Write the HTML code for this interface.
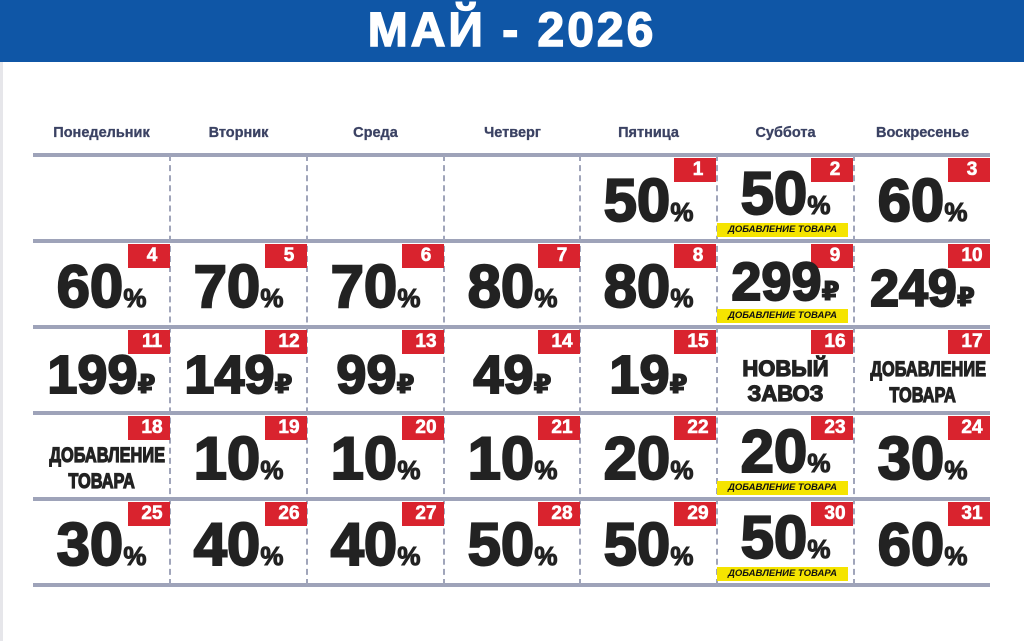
<!DOCTYPE html>
<html><head><meta charset="utf-8"><style>
*{margin:0;padding:0;box-sizing:border-box}
body{width:1024px;height:641px;background:#fff;position:relative;overflow:hidden;font-family:"Liberation Sans","DejaVu Sans",sans-serif}
.hdr{position:absolute;left:0;top:0;width:1024px;height:62px;background:#0f56a6;color:#fff;font-weight:bold;font-size:48px;text-align:center;line-height:62px;-webkit-text-stroke:1.5px #fff;letter-spacing:3px}
.dn{position:absolute;top:125px;width:137px;text-align:center;font-size:14.5px;font-weight:bold;color:#3b4263;-webkit-text-stroke:0.3px #3b4263}
.h{position:absolute;left:33px;width:957px;height:4px;background:#9ea3b9}
.v{position:absolute;top:155px;height:430px;width:0;border-left:2px dashed #a0a5ba}
.b{position:absolute;width:42px;height:24px;background:#d9232e;color:#fff;font-weight:bold;font-size:19px;text-align:center;padding-left:6px;line-height:24px;-webkit-text-stroke:0.6px #fff}
.n{position:absolute;width:137px;text-align:center;font-weight:bold;font-size:60px;line-height:60px;color:#222;-webkit-text-stroke:2px #222;letter-spacing:0;white-space:nowrap}
.n s{text-decoration:none;font-size:26px;letter-spacing:0;-webkit-text-stroke:1px #222}
.y{position:absolute;width:131px;height:14px;background:#f5e400;font-size:9.5px;font-weight:bold;font-style:italic;text-align:center;line-height:14px;color:#111}
.t{position:absolute;width:137px;text-align:center;font-weight:bold;font-size:22px;line-height:25px;color:#222;-webkit-text-stroke:1.2px #222}
.t.c span{display:inline-block;transform:scaleX(0.78);font-size:21px}
</style></head><body>
<div class="hdr">МАЙ - 2026</div>
<div class="dn" style="left:33px">Понедельник</div>
<div class="dn" style="left:170px">Вторник</div>
<div class="dn" style="left:307px">Среда</div>
<div class="dn" style="left:444px">Четверг</div>
<div class="dn" style="left:580px">Пятница</div>
<div class="dn" style="left:717px">Суббота</div>
<div class="dn" style="left:854px">Воскресенье</div>

<div class="h" style="top:153px"></div>
<div class="h" style="top:239px"></div>
<div class="h" style="top:325px"></div>
<div class="h" style="top:411px"></div>
<div class="h" style="top:497px"></div>
<div class="h" style="top:583px"></div>
<div class="v" style="left:169px"></div>
<div class="v" style="left:306px"></div>
<div class="v" style="left:443px"></div>
<div class="v" style="left:579px"></div>
<div class="v" style="left:716px"></div>
<div class="v" style="left:853px"></div>
<div style="position:absolute;left:0;top:62px;width:3px;height:579px;background:#e6e6ea"></div>

<!-- row 0 T=155 -->
<div class="b" style="left:674px;top:158px">1</div><div class="n" style="left:580px;top:171px">50<s>%</s></div>
<div class="b" style="left:811px;top:158px">2</div><div class="n" style="left:717px;top:164px">50<s>%</s></div><div class="y" style="left:717px;top:223px">ДОБАВЛЕНИЕ ТОВАРА</div>
<div class="b" style="left:948px;top:158px">3</div><div class="n" style="left:854px;top:171px">60<s>%</s></div>

<!-- row 1 T=241 -->
<div class="b" style="left:128px;top:244px">4</div><div class="n" style="left:33px;top:257px">60<s>%</s></div>
<div class="b" style="left:265px;top:244px">5</div><div class="n" style="left:170px;top:257px">70<s>%</s></div>
<div class="b" style="left:402px;top:244px">6</div><div class="n" style="left:307px;top:257px">70<s>%</s></div>
<div class="b" style="left:538px;top:244px">7</div><div class="n" style="left:444px;top:257px">80<s>%</s></div>
<div class="b" style="left:674px;top:244px">8</div><div class="n" style="left:580px;top:257px">80<s>%</s></div>
<div class="b" style="left:811px;top:244px">9</div><div class="n" style="left:717px;top:252px;font-size:54px">299<s>₽</s></div><div class="y" style="left:717px;top:309px">ДОБАВЛЕНИЕ ТОВАРА</div>
<div class="b" style="left:948px;top:244px">10</div><div class="n" style="left:854px;top:259px;font-size:52px">249<s>₽</s></div>

<!-- row 2 T=327 -->
<div class="b" style="left:128px;top:330px">11</div><div class="n" style="left:33px;top:345px;font-size:54px">199<s>₽</s></div>
<div class="b" style="left:265px;top:330px">12</div><div class="n" style="left:170px;top:345px;font-size:54px">149<s>₽</s></div>
<div class="b" style="left:402px;top:330px">13</div><div class="n" style="left:307px;top:345px;font-size:54px">99<s>₽</s></div>
<div class="b" style="left:538px;top:330px">14</div><div class="n" style="left:444px;top:345px;font-size:54px">49<s>₽</s></div>
<div class="b" style="left:674px;top:330px">15</div><div class="n" style="left:580px;top:345px;font-size:54px">19<s>₽</s></div>
<div class="b" style="left:811px;top:330px">16</div><div class="t" style="left:717px;top:356px">НОВЫЙ<br>ЗАВОЗ</div>
<div class="b" style="left:948px;top:330px">17</div><div class="t c" style="left:854px;top:356px"><span>ДОБАВЛЕНИЕ</span><br><span>ТОВАРА</span></div>

<!-- row 3 T=413 -->
<div class="b" style="left:128px;top:416px">18</div><div class="t c" style="left:33px;top:442px"><span>ДОБАВЛЕНИЕ</span><br><span>ТОВАРА</span></div>
<div class="b" style="left:265px;top:416px">19</div><div class="n" style="left:170px;top:429px">10<s>%</s></div>
<div class="b" style="left:402px;top:416px">20</div><div class="n" style="left:307px;top:429px">10<s>%</s></div>
<div class="b" style="left:538px;top:416px">21</div><div class="n" style="left:444px;top:429px">10<s>%</s></div>
<div class="b" style="left:674px;top:416px">22</div><div class="n" style="left:580px;top:429px">20<s>%</s></div>
<div class="b" style="left:811px;top:416px">23</div><div class="n" style="left:717px;top:422px">20<s>%</s></div><div class="y" style="left:717px;top:481px">ДОБАВЛЕНИЕ ТОВАРА</div>
<div class="b" style="left:948px;top:416px">24</div><div class="n" style="left:854px;top:429px">30<s>%</s></div>

<!-- row 4 T=499 -->
<div class="b" style="left:128px;top:502px">25</div><div class="n" style="left:33px;top:515px">30<s>%</s></div>
<div class="b" style="left:265px;top:502px">26</div><div class="n" style="left:170px;top:515px">40<s>%</s></div>
<div class="b" style="left:402px;top:502px">27</div><div class="n" style="left:307px;top:515px">40<s>%</s></div>
<div class="b" style="left:538px;top:502px">28</div><div class="n" style="left:444px;top:515px">50<s>%</s></div>
<div class="b" style="left:674px;top:502px">29</div><div class="n" style="left:580px;top:515px">50<s>%</s></div>
<div class="b" style="left:811px;top:502px">30</div><div class="n" style="left:717px;top:508px">50<s>%</s></div><div class="y" style="left:717px;top:567px">ДОБАВЛЕНИЕ ТОВАРА</div>
<div class="b" style="left:948px;top:502px">31</div><div class="n" style="left:854px;top:515px">60<s>%</s></div>
</body></html>
